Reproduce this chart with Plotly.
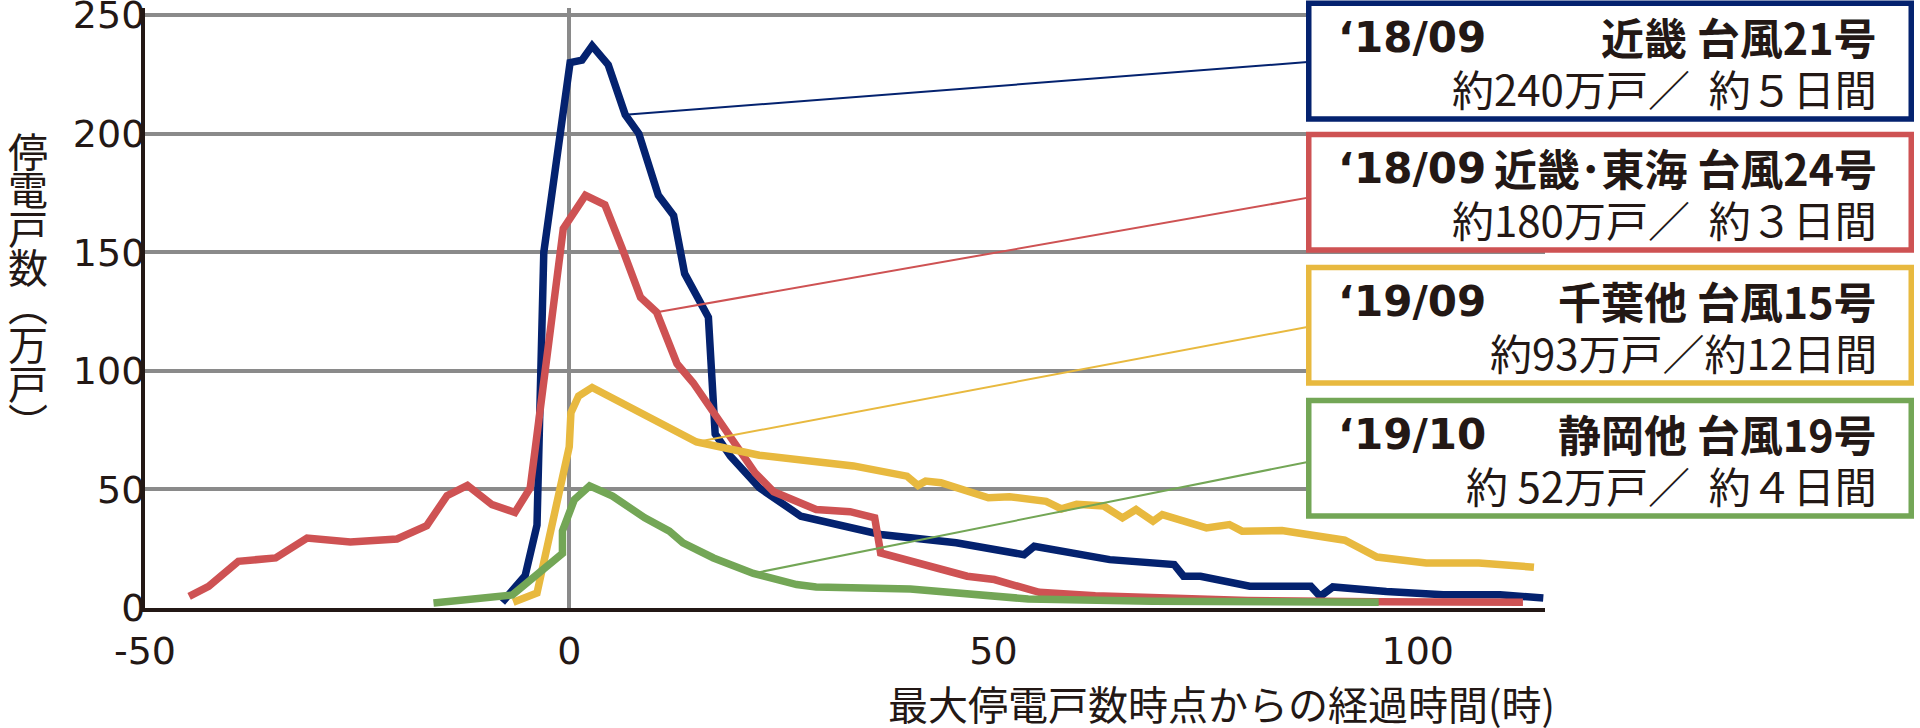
import plotly.graph_objects as go

# ---------------- data ----------------
navy_x = [-7.9, -5.2, -3.8, -3.0, 0.1, 1.5, 2.7, 4.6, 6.6, 8.2, 10.5, 12.3, 13.6, 15.0, 16.4, 17.2, 19.0,
          22.4, 24.4, 27.3, 36.7, 41.1, 45.6, 53.6, 54.8, 63.7, 71.3, 72.4, 74.4, 80.2, 87.4, 88.5, 90.0,
          96.3, 103.0, 109.7, 114.8]
navy_y = [2.4, 13.6, 35, 150, 230, 231, 237, 229, 208, 200, 174, 165.5, 141, 132, 122.6, 73.4, 64,
          50.7, 45.8, 38.7, 31, 29.6, 27.5, 22.5, 26, 20.4, 18.3, 13.4, 13.4, 9.2, 9.2, 4.9, 8.9,
          7.0, 5.6, 5.6, 4.2]

red_x = [-44.8, -42.5, -39.0, -34.6, -30.9, -25.8, -20.3, -16.8, -14.4, -12.0, -9.1, -6.4, -4.6, -1.6,
         -0.7, 1.9, 4.2, 6.2, 8.4, 10.3, 12.7, 14.6, 16.3, 18.8, 21.9, 24.1, 29.1, 33.1, 36.0, 36.7,
         41.1, 46.9, 50.1, 55.4, 62.0, 68.7, 80.0, 95.0, 112.4]
red_y = [4.9, 9.1, 19.7, 21.1, 29.5, 27.8, 29.1, 34.7, 47.4, 51.7, 43.6, 40.3, 50.6, 139,
         160, 174, 170, 152, 131, 124.7, 103, 95, 86, 73, 57, 49, 41.5, 40.6, 38, 23.2,
         19, 13.4, 12, 6.6, 5.2, 4.2, 3.2, 2.6, 2.4]

yellow_x = [-6.6, -3.8, 0.0, 0.2, 1.1, 2.7, 15.0, 22.4, 33.5, 39.8, 41.1, 42.0, 43.8, 49.4, 51.9, 56.2,
            58.0, 59.8, 63.0, 65.2, 66.8, 68.8, 69.9, 71.7, 75.1, 77.8, 79.3, 84.0, 90.3, 91.4, 95.2,
            101.0, 107.2, 113.7]
yellow_y = [2.4, 6.3, 68, 82.4, 89.4, 93, 70, 64.4, 59.9, 55.6, 51.7, 53.5, 52.8, 46.5, 46.9, 45,
            41.8, 43.7, 43, 38, 41.5, 36.6, 39.4, 37.3, 33.8, 35.2, 32.4, 32.7, 28.9, 28.6, 21.5,
            19, 19, 17.2]

green_x = [-16.0, -6.7, -0.8, -0.8, 0.6, 2.4, 5.1, 8.9, 11.8, 13.4, 17.0, 21.7, 26.8, 29.1, 40.2,
           45.6, 54.1, 68.7, 95.4]
green_y = [2.1, 5.5, 23, 32.5, 45.7, 51.5, 47.2, 38, 32.4, 27.5, 21.1, 14.6, 9.9, 8.9, 8.0,
           6.3, 3.8, 2.8, 2.4]

# index of the point where each callout line leaves the curve
anchor_idx = [8, 19, 6, 11]

box_dates = ["‘18/09", "‘18/09", "‘19/09", "‘19/10"]
box_names = ["近畿 台風21号", "近畿･東海 台風24号", "千葉他 台風15号", "静岡他 台風19号"]
box_lines = ["約240万戸／  約５日間", "約180万戸／  約３日間", "約93万戸／約12日間", "約 52万戸／  約４日間"]

y_tick_vals = [0, 50, 100, 150, 200, 250]
y_tick_text = ["0", "50", "100", "150", "200", "250"]
x_tick_vals = [-50, 0, 50, 100]
x_tick_text = ["-50", "0", "50", "100"]

y_title_chars = ["停", "電", "戸", "数", "︵", "万", "戸", "︶"]
x_title = "最大停電戸数時点からの経過時間(時)"

# ---------------- style / layout ----------------
colors = ["#04226F", "#CE5253", "#E8B93F", "#73A656"]
series = [(navy_x, navy_y), (red_x, red_y), (yellow_x, yellow_y), (green_x, green_y)]
FONT = "Noto Sans CJK JP"
NUM_FONT = "DejaVu Sans"
INK = "#231815"
GRID = "#8A8A8A"

W, H = 1920, 728
X_RANGE = [-50, 115]
Y_RANGE = [0, 253]
# pixel positions of the axis frame (x=-50 .. 115, y=0 .. 250)
X_LEFT_PX, X_RIGHT_PX = 145, 1545
Y0_PX, Y250_PX = 608.3, 15.5
YSCALE = (Y0_PX - Y250_PX) / 250.0
ML, MR = X_LEFT_PX, W - X_RIGHT_PX
MB = H - Y0_PX
MT = Y250_PX - (Y_RANGE[1] - 250) * YSCALE
PW, PH = W - ML - MR, H - MT - MB


def px_to_paper_x(px):
    return (px - ML) / PW


def py_to_paper_y(py):
    return (H - MB - py) / PH


def px_to_data_x(px):
    return X_RANGE[0] + (px - ML) / PW * (X_RANGE[1] - X_RANGE[0])


def py_to_data_y(py):
    return Y_RANGE[0] + (H - MB - py) / PH * (Y_RANGE[1] - Y_RANGE[0])


BOX_LEFT, BOX_RIGHT = 1306, 1914
BOX_TOPS = [1, 132, 265, 398]
BOX_H = 121
BOX_BW = 5.5
CONNECT_PY = [62, 197, 326, 461]
TEXT_LEFT, TEXT_RIGHT = 1336, 1879

fig = go.Figure()
for (xs, ys), c in zip(series, colors):
    fig.add_trace(go.Scatter(x=xs, y=ys, mode="lines", line=dict(color=c, width=7.5),
                             hoverinfo="skip", showlegend=False))

shapes = []
annotations = []
for i, ((xs, ys), c) in enumerate(zip(series, colors)):
    k = anchor_idx[i]
    shapes.append(dict(type="line", xref="x", yref="y", x0=xs[k], y0=ys[k],
                       x1=px_to_data_x(BOX_LEFT + 8), y1=py_to_data_y(CONNECT_PY[i]),
                       line=dict(color=c, width=2), layer="above"))
for i, c in enumerate(colors):
    top = BOX_TOPS[i]
    shapes.append(dict(type="rect", xref="paper", yref="paper",
                       x0=px_to_paper_x(BOX_LEFT + BOX_BW / 2), x1=px_to_paper_x(BOX_RIGHT - BOX_BW / 2),
                       y0=py_to_paper_y(top + BOX_BW / 2), y1=py_to_paper_y(top + BOX_H - BOX_BW / 2),
                       line=dict(color=c, width=BOX_BW), fillcolor="white", layer="above"))
    l1 = top + 51 - 16
    l2 = top + 103 - 16
    annotations.append(dict(xref="paper", yref="paper", x=px_to_paper_x(TEXT_LEFT), y=py_to_paper_y(l1 + 2),
                            xanchor="left", yanchor="middle", showarrow=False,
                            text="<b>" + box_dates[i] + "</b>", font=dict(family=NUM_FONT, size=42, color=INK)))
    annotations.append(dict(xref="paper", yref="paper", x=px_to_paper_x(TEXT_RIGHT), y=py_to_paper_y(l1),
                            xanchor="right", yanchor="middle", showarrow=False,
                            text="<b>" + box_names[i] + "</b>", font=dict(family=FONT, size=43, color=INK)))
    annotations.append(dict(xref="paper", yref="paper", x=px_to_paper_x(TEXT_RIGHT), y=py_to_paper_y(l2),
                            xanchor="right", yanchor="middle", showarrow=False,
                            text=box_lines[i], font=dict(family=FONT, size=42, color=INK)))

# vertical y-axis title, one upright character per line
for j, ch in enumerate(y_title_chars):
    annotations.append(dict(xref="paper", yref="paper", x=px_to_paper_x(28), y=py_to_paper_y(150 + j * 38.7),
                            xanchor="center", yanchor="middle", showarrow=False, text=ch,
                            font=dict(family=FONT, size=40, color=INK)))

annotations.append(dict(xref="paper", yref="paper", x=px_to_paper_x(1557), y=py_to_paper_y(703),
                        xanchor="right", yanchor="middle", showarrow=False, text=x_title,
                        font=dict(family=FONT, size=40, color=INK)))

fig.update_layout(
    width=W, height=H,
    margin=dict(l=ML, r=MR, t=MT, b=MB, autoexpand=False),
    paper_bgcolor="white", plot_bgcolor="white",
    shapes=shapes, annotations=annotations,
    font=dict(family=FONT, color=INK),
    xaxis=dict(range=X_RANGE, tickvals=x_tick_vals, ticktext=x_tick_text, showgrid=False,
               zeroline=True, zerolinecolor=GRID, zerolinewidth=3.5,
               showline=True, linecolor=INK, linewidth=4, ticks="", ticklabelstandoff=6,
               ticklabeloverflow="allow",
               tickfont=dict(family=NUM_FONT, size=38, color=INK)),
    yaxis=dict(range=Y_RANGE, tickvals=y_tick_vals, ticktext=y_tick_text, showgrid=True,
               gridcolor=GRID, gridwidth=3.5, zeroline=False,
               showline=True, linecolor=INK, linewidth=4, ticks="", ticklabelstandoff=-12,
               ticklabeloverflow="allow",
               tickfont=dict(family=NUM_FONT, size=38, color=INK)),
)

fig.write_html("out.html", config={"displayModeBar": False},
               post_script="document.body.style.margin='0';document.body.style.overflow='hidden';")
